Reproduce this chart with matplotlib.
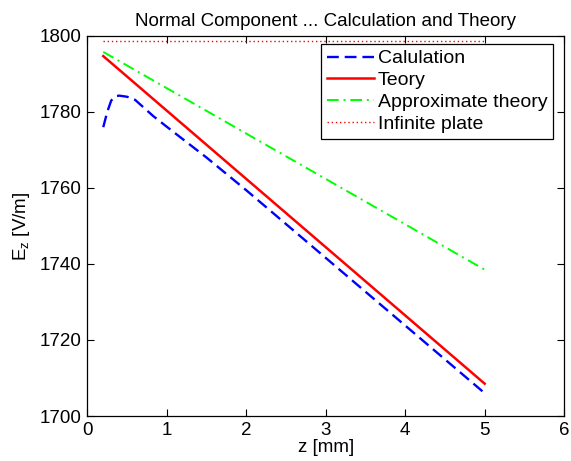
import matplotlib
matplotlib.use('Agg')
import matplotlib.pyplot as plt

plt.rcParams['font.family'] = ['Liberation Sans', 'DejaVu Sans']

# Datos
z_calc = [0.2, 0.25, 0.3, 0.35, 0.4, 0.5, 0.6, 0.83, 1.0, 1.5, 2.0, 3.0, 4.0, 5.0]
e_calc = [1776.0, 1780.0, 1783.0, 1784.1, 1784.3, 1784.0, 1783.2, 1778.9, 1776.1,
          1768.0, 1759.4, 1741.6, 1723.8, 1706.0]

z_teo = [0.2, 5.0]
e_teo = [1794.7, 1708.5]

z_aprox = [0.2, 5.0]
e_aprox = [1795.8, 1738.5]

z_inf = [0.2, 5.0]
e_inf = [1798.6, 1798.6]

fig = plt.figure(figsize=(5.71, 4.61), dpi=100)
ax = fig.add_axes([0.153, 0.0976, 0.835, 0.8244])

ax.plot(z_calc, e_calc, color='#0000ff', linestyle=(0, (5, 2.5)), linewidth=1.7, label='Calulation')
ax.plot(z_teo, e_teo, color='#ff0000', linestyle='-', linewidth=1.8, label='Teory')
ax.plot(z_aprox, e_aprox, color='#00ff00', linestyle=(0, (6, 2.5, 1, 2.5)), linewidth=1.4,
        label='Approximate theory')
ax.plot(z_inf, e_inf, color='#ff0000', linestyle=(0, (1, 2)), linewidth=1.0, label='Infinite plate')

ax.set_xlim(0, 6)
ax.set_ylim(1700, 1800)
ax.set_xticks([0, 1, 2, 3, 4, 5, 6])
ax.set_yticks([1700, 1720, 1740, 1760, 1780, 1800])
ax.tick_params(direction='in', top=True, right=True, length=5, labelsize=13.5, pad=4)

ax.set_title('Normal Component ... Calculation and Theory', fontsize=13.5, pad=7)
ax.set_xlabel('z [mm]', fontsize=13.5, labelpad=0)
ax.set_ylabel('$\\mathregular{E_z}$ [V/m]', fontsize=13.5, labelpad=6)

leg = ax.legend(loc='upper right', bbox_to_anchor=(0.977, 0.979), borderaxespad=0,
                fontsize=14, fancybox=False, edgecolor='black', framealpha=1,
                handlelength=2.4, handletextpad=0.2, labelspacing=0.22, borderpad=0.3)
leg.get_frame().set_linewidth(0.9)

for s in ax.spines.values():
    s.set_linewidth(0.9)

plt.savefig('out.png', dpi=100)
